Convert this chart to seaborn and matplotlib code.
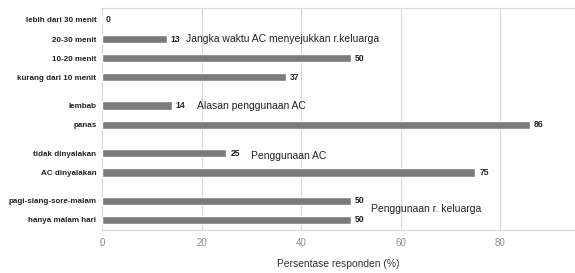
import matplotlib
matplotlib.use("Agg")
import matplotlib.pyplot as plt
import seaborn as sns
import pandas as pd
import numpy as np

# ---- data ----
groups = [
    "Jangka waktu AC menyejukkan r.keluarga",
    "Alasan penggunaan AC",
    "Penggunaan AC",
    "Penggunaan r. keluarga",
]
group_categories = [
    ["lebih dari 30 menit", "20-30 menit", "10-20 menit", "kurang dari 10 menit"],
    ["lembab", "panas"],
    ["tidak dinyalakan", "AC dinyalakan"],
    ["pagi-siang-sore-malam", "hanya malam hari"],
]
group_values = [
    [0, 13, 50, 37],
    [14, 86],
    [25, 75],
    [50, 50],
]
x_ticks = [0, 20, 40, 60, 80]
x_label = "Persentase responden (%)"

# ---- build table with group gaps ----
GAP = 0.5
rows = []
pos = 0.0
for gi, (cats, vals) in enumerate(zip(group_categories, group_values)):
    for c, v in zip(cats, vals):
        rows.append({"kategori": c, "nilai": v, "pos": pos, "grup": groups[gi]})
        pos += 1
    pos += GAP
df = pd.DataFrame(rows)

sns.set_theme(style="white")
plt.rcParams["font.family"] = ["Liberation Sans", "DejaVu Sans"]

fig = plt.figure(figsize=(5.75, 2.73), dpi=100)
ax = fig.add_axes([0.1774, 0.1575, 0.8226, 0.8132])

sns.barplot(data=df, x="nilai", y="pos", orient="h", native_scale=True,
            color="#7a7a7a", saturation=1, width=0.44, ax=ax, errorbar=None,
            zorder=3)

# value labels
for _, r in df.iterrows():
    ax.text(r["nilai"] + 0.8, r["pos"], f"{int(r['nilai'])}", va="center",
            ha="left", fontsize=6.2, fontweight="bold", color="#222222")

# group labels
grp_anchor = {
    groups[0]: (16.8, df.loc[1, "pos"]),
    groups[1]: (19.0, df.loc[4, "pos"]),
    groups[2]: (30.0, df.loc[6, "pos"] + 0.15),
    groups[3]: (54.0, (df.loc[8, "pos"] + df.loc[9, "pos"]) / 2 - 0.05),
}
for g, (xx, yy) in grp_anchor.items():
    ax.text(xx, yy, g, va="center", ha="left", fontsize=7.5, color="#222222")

ax.set_xlim(0, 95)
ax.set_ylim(df["pos"].max() + 0.53, -0.63)
ax.set_xticks(x_ticks)
ax.set_xticklabels([str(t) for t in x_ticks], fontsize=7, color="#8a8a8a")
ax.set_yticks(df["pos"])
ax.set_yticklabels(df["kategori"], fontsize=5.8, fontweight="bold", color="#222222")
ax.tick_params(axis="both", length=0, pad=4)
ax.tick_params(axis="x", pad=6)
ax.grid(axis="x", color="#d8d8d8", linewidth=0.9, zorder=0)
ax.grid(axis="y", visible=False)
for s in ["left", "right"]:
    ax.spines[s].set_visible(False)
for s in ["top", "bottom"]:
    ax.spines[s].set_color("#d8d8d8")
    ax.spines[s].set_linewidth(0.9)
ax.set_ylabel("")
ax.set_xlabel(x_label, fontsize=7.4, color="#333333", labelpad=8)

fig.savefig("out.png", dpi=100, facecolor="white")
